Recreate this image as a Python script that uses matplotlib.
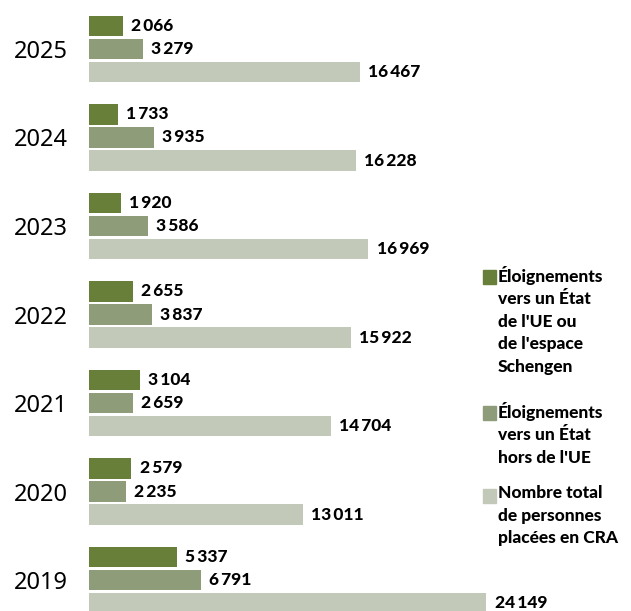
import matplotlib.pyplot as plt
from matplotlib.patches import Rectangle

years = ["2025", "2024", "2023", "2022", "2021", "2020", "2019"]
ue_schengen = [2066, 1733, 1920, 2655, 3104, 2579, 5337]
hors_ue = [3279, 3935, 3586, 3837, 2659, 2235, 6791]
total_cra = [16467, 16228, 16969, 15922, 14704, 13011, 24149]

series_labels = [
    "Éloignements\nvers un État\nde l'UE ou\nde l'espace\nSchengen",
    "Éloignements\nvers un État\nhors de l'UE",
    "Nombre total\nde personnes\nplacées en CRA",
]
colors = ["#687f3a", "#8e9c7a", "#c2c9b9"]

plt.rcParams['font.family'] = ['Lato', 'DejaVu Sans']

W, H = 631, 611
fig = plt.figure(figsize=(W / 100, H / 100), dpi=100)
left = 89 / W
ax = fig.add_axes([left, 0, 1 - left, 1])

px_per_unit = 0.01646
ax.set_xlim(0, (W - 89) / px_per_unit)
ax.set_ylim((H - 49) / 88.5, -49 / 88.5)

bar_h = 0.237
offset = 0.26
fmt = lambda v: f"{v:,}".replace(",", "\u2009")

for k, vals in enumerate([ue_schengen, hors_ue, total_cra]):
    ys = [i + (k - 1) * offset for i in range(len(years))]
    ax.barh(ys, vals, height=bar_h, color=colors[k])
    for y, v in zip(ys, vals):
        ax.annotate(fmt(v), (v, y), xytext=(6, 0), textcoords='offset points',
                    ha='left', va='center', fontsize=12.5, fontweight='black',
                    color='black')

ax.set_yticks(range(len(years)))
ax.set_yticklabels(years, fontsize=17, family=['Noto Sans', 'DejaVu Sans'],
                   fontweight='light')
ax.tick_params(axis='y', length=0, pad=15)
ax.set_xticks([])
for s in ax.spines.values():
    s.set_visible(False)
ax.patch.set_alpha(0)

# legende
leg_tops = [270, 406, 489]
for color, label, top in zip(colors, series_labels, leg_tops):
    fig.patches.append(Rectangle((483 / W, 1 - (top + 14) / H), 13 / W, 14 / H,
                                 transform=fig.transFigure, color=color))
    fig.text(498 / W, 1 - (top - 4) / H, label, ha='left', va='top',
             fontsize=12.5, fontweight='black', linespacing=1.5)

fig.savefig("out.png", dpi=100)
